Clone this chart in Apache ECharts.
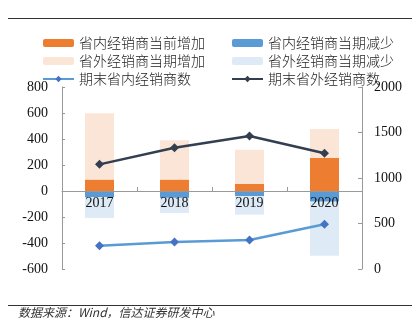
<!DOCTYPE html>
<html><head><meta charset="utf-8">
<script src="https://cdn.jsdelivr.net/npm/echarts@6/dist/echarts.min.js"></script>
<style>html,body{margin:0;padding:0;background:#fff;}#c{width:420px;height:331px;}</style>
</head><body><div id="c"></div>
<script>
const categories = ['2017', '2018', '2019', '2020'];
const innerIncrease = [88, 88, 54, 254];
const innerDecrease = [-48, -53, -40, -82];
const outerIncrease = [510, 302, 264, 223];
const outerDecrease = [-159, -116, -142, -416];
const innerCount = [256, 297, 319, 491];
const outerCount = [1150, 1333, 1462, 1271];
const leftTicks = {min: -600, max: 800, interval: 200};
const rightTicks = {min: 0, max: 2000, interval: 500};
const names = ['省内经销商当前增加', '省内经销商当期减少', '省外经销商当期增加', '省外经销商当期减少', '期末省内经销商数', '期末省外经销商数'];

const serif = '"Liberation Serif", "Times New Roman", serif';
const cjk = '"Noto Sans CJK SC", sans-serif';
const chart = echarts.init(document.getElementById('c'));
const legendBase = {
  orient: 'vertical', top: 31, itemWidth: 31, itemHeight: 8, itemGap: 4, itemTextGap: 4,
  textStyle: {fontFamily: cjk, fontSize: 14, color: '#222', fontWeight: 300}
};
const barBase = {type: 'bar', stack: 'a', barWidth: 29, yAxisIndex: 0, z: 2};
chart.setOption({
  animation: false,
  legend: [
    Object.assign({left: 37, data: [names[0], names[2], names[4]]}, legendBase),
    Object.assign({left: 226, data: [names[1], names[3], names[5]]}, legendBase)
  ],
  grid: {left: 62, right: 58, top: 87, bottom: 62},
  xAxis: {
    type: 'category', data: categories, z: 10,
    axisLine: {onZero: true, onZeroAxisIndex: 0, lineStyle: {color: '#999', width: 1}},
    axisTick: {show: true, inside: true, length: 4, lineStyle: {color: '#999'}},
    axisLabel: {margin: -73, fontFamily: serif, fontSize: 14, color: '#111'}
  },
  yAxis: [
    Object.assign({type: 'value', position: 'left',
      axisLine: {show: true, lineStyle: {color: '#999'}},
      axisTick: {show: true, inside: true, length: 3, lineStyle: {color: '#999'}},
      splitLine: {show: false},
      axisLabel: {margin: 14, fontFamily: serif, fontSize: 14, color: '#111', formatter: v => String(v)}}, leftTicks),
    Object.assign({type: 'value', position: 'right',
      axisLine: {show: true, lineStyle: {color: '#999'}},
      axisTick: {show: true, inside: true, length: 4, lineStyle: {color: '#999'}},
      splitLine: {show: false},
      axisLabel: {margin: 12, fontFamily: serif, fontSize: 14, color: '#111', formatter: v => String(v)}}, rightTicks)
  ],
  series: [
    Object.assign({name: names[0], data: innerIncrease, itemStyle: {color: '#ED7D31'}}, barBase),
    Object.assign({name: names[1], data: innerDecrease, itemStyle: {color: '#5B9BD5'}}, barBase),
    Object.assign({name: names[2], data: outerIncrease, itemStyle: {color: '#FBE5D6'}}, barBase),
    Object.assign({name: names[3], data: outerDecrease, itemStyle: {color: '#DEEBF7'}}, barBase),
    {name: names[4], type: 'line', yAxisIndex: 1, data: innerCount, z: 12,
      symbol: 'diamond', symbolSize: 9,
      lineStyle: {color: '#5B9BD5', width: 2.5}, itemStyle: {color: '#4472C4'}},
    {name: names[5], type: 'line', yAxisIndex: 1, data: outerCount, z: 12,
      symbol: 'diamond', symbolSize: 9,
      lineStyle: {color: '#333F50', width: 2.5}, itemStyle: {color: '#333F50'}}
  ],
  graphic: [
    {type: 'line', shape: {x1: 8, y1: 18.5, x2: 412, y2: 18.5}, style: {stroke: '#333', lineWidth: 1.2}},
    {type: 'line', shape: {x1: 8, y1: 305.5, x2: 412, y2: 305.5}, style: {stroke: '#333', lineWidth: 1.2}},
    {type: 'text', left: 18, top: 306, style: {text: '数据来源：Wind，信达证券研发中心', fontFamily: cjk, fontStyle: 'italic', fontSize: 12, fill: '#333'}}
  ]
});
</script></body></html>
